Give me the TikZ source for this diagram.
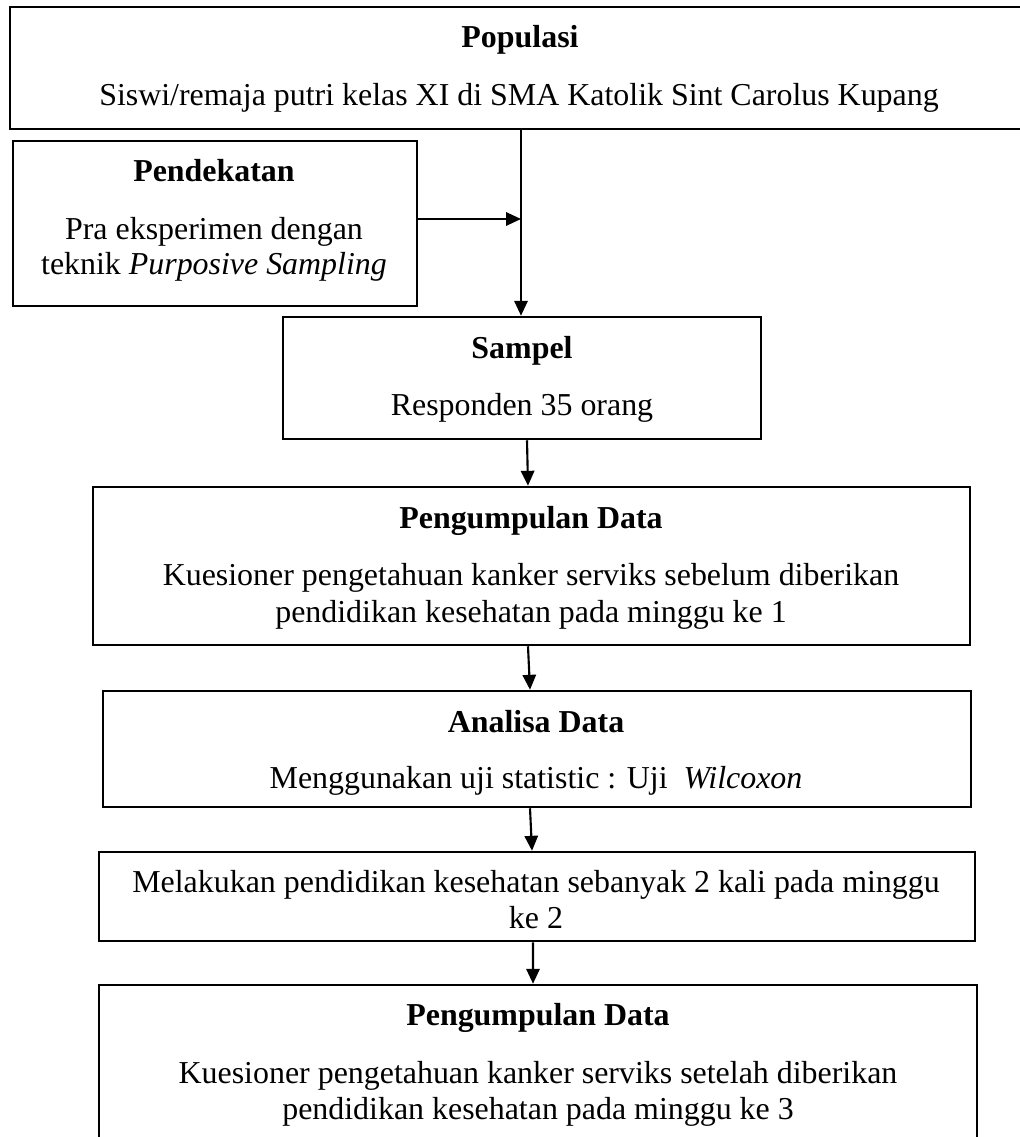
\documentclass[tikz,border=0pt]{standalone}
\usepackage{fontspec}
\setmainfont{Liberation Serif}
\usetikzlibrary{arrows.meta,fit}
\begin{document}
\begin{tikzpicture}[x=0.376pt,y=-0.376pt,
  box/.style={draw, line width=0.95pt, inner sep=0pt, rectangle},
  txt/.style={anchor=base, inner sep=0pt, font=\fontsize{12}{14}\selectfont},
  ttl/.style={anchor=base, inner sep=0pt, font=\fontsize{12}{14}\selectfont\bfseries},
  arr/.style={line width=0.8pt, -{Triangle[length=5.6pt,width=5pt]}}]
\useasboundingbox (0,0) rectangle (1019,1137);

% boxes
\node[box, fit={(10,7) (1030,129)}] (pop) {};
\node[box, fit={(13,141) (417,306)}] (pend) {};
\node[box, fit={(283,317) (761,439)}] (samp) {};
\node[box, fit={(93,487) (970,645)}] (pd1) {};
\node[box, fit={(103,691) (971,807)}] (ana) {};
\node[box, fit={(99,852) (975,941)}] (mel) {};
\node[box, fit={(99,985) (977,1150)}] (pd2) {};

% texts
\node[ttl] (popT) at (520,48) {Populasi};
\node[txt] (popB) at (519,106) {Siswi/remaja putri kelas XI di SMA Katolik Sint Carolus Kupang};

\node[ttl] (pendT) at (214,182) {Pendekatan};
\node[txt] (pendB1) at (214,240) {Pra eksperimen dengan};
\node[txt] (pendB2) at (214,275) {teknik \textit{Purposive Sampling}};

\node[ttl] (sampT) at (522,359) {Sampel};
\node[txt] (sampB) at (522,415) {Responden 35 orang};

\node[ttl] (pd1T) at (531,528) {Pengumpulan Data};
\node[txt] (pd1B1) at (531,585) {Kuesioner pengetahuan kanker serviks sebelum diberikan};
\node[txt] (pd1B2) at (531,622) {pendidikan kesehatan pada minggu ke 1};

\node[ttl] (anaT) at (536,732) {Analisa Data};
\node[txt] (anaB) at (536,788) {Menggunakan uji statistic : Uji\ \ \textit{Wilcoxon}};

\node[txt] (melB1) at (536,892) {Melakukan pendidikan kesehatan sebanyak 2 kali pada minggu};
\node[txt] (melB2) at (536,928) {ke 2};

\node[ttl] (pd2T) at (538,1025) {Pengumpulan Data};
\node[txt] (pd2B1) at (538,1083) {Kuesioner pengetahuan kanker serviks setelah diberikan};
\node[txt] (pd2B2) at (538,1119) {pendidikan kesehatan pada minggu ke 3};

% connectors
\coordinate (j) at (521,219);
\draw[arr] (pop.south -| j) -- (samp.north -| j);
\draw[arr] (pend.east |- j) -- (j);
\draw[arr] ([xshift=1.88pt]samp.south) -- ([xshift=-1.32pt]pd1.north);
\draw[arr] ([xshift=-1.32pt]pd1.south) -- ([xshift=-2.63pt]ana.north);
\draw[arr] ([xshift=-2.63pt]ana.south) -- ([xshift=-1.88pt]mel.north);
\draw[arr] ([xshift=-1.5pt]mel.south) -- ([xshift=-1.88pt]pd2.north);
\end{tikzpicture}
\end{document}
